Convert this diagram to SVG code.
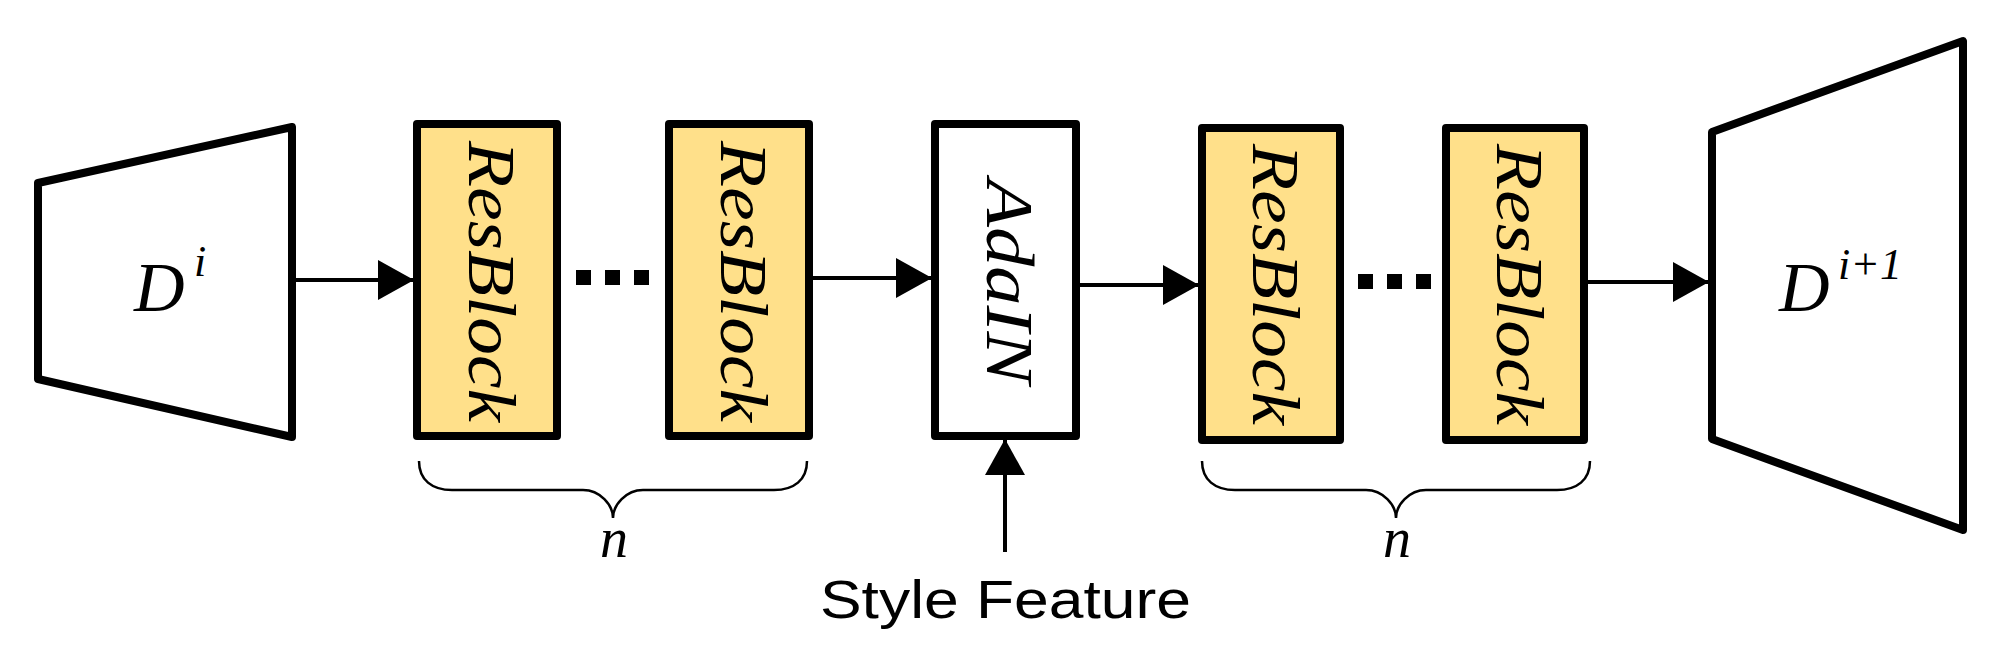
<svg xmlns="http://www.w3.org/2000/svg" width="2008" height="668" viewBox="0 0 2008 668">
<style>
.sh{fill:#fff;stroke:#000;stroke-width:8;stroke-linejoin:round}
.rb{fill:#FFE08A;stroke:#000;stroke-width:8;stroke-linejoin:round}
.ln{stroke:#000;stroke-width:4;fill:none}
.br{stroke:#000;stroke-width:2.5;fill:none}
.m{font-family:"Liberation Serif",serif;font-style:italic;fill:#000}
.lbl{font-family:"Liberation Serif",serif;font-style:italic;font-size:68px;fill:#000}
</style>
<defs>
<marker id="ah" markerUnits="userSpaceOnUse" markerWidth="40" markerHeight="44" refX="36" refY="22" orient="auto">
<path d="M0,2 L36,22 L0,42 Z" fill="#000"/>
</marker>
</defs>
<rect width="2008" height="668" fill="#fff"/>
<g id="Di"><polygon class="sh" points="38,183 292,127 292,437 38,379"/>
<text class="m" x="134" y="311" font-size="70">D</text><text class="m" x="194" y="276" font-size="44">i</text></g>
<g id="rb1"><rect class="rb" x="417" y="124" width="140" height="312"/><text class="lbl" transform="translate(469,141) rotate(90)" textLength="281" lengthAdjust="spacingAndGlyphs">ResBlock</text></g>
<g id="rb2"><rect class="rb" x="669" y="124" width="140" height="312"/><text class="lbl" transform="translate(721,141) rotate(90)" textLength="281" lengthAdjust="spacingAndGlyphs">ResBlock</text></g>
<g id="adain"><rect class="sh" x="935" y="124" width="141" height="312"/><text class="lbl" transform="translate(987,179) rotate(90)" textLength="205" lengthAdjust="spacingAndGlyphs">AdaIN</text></g>
<g id="rb3"><rect class="rb" x="1202" y="128" width="138" height="312"/><text class="lbl" transform="translate(1253,144) rotate(90)" textLength="281" lengthAdjust="spacingAndGlyphs">ResBlock</text></g>
<g id="rb4"><rect class="rb" x="1446" y="128" width="138" height="312"/><text class="lbl" transform="translate(1497,144) rotate(90)" textLength="281" lengthAdjust="spacingAndGlyphs">ResBlock</text></g>
<g id="Di1"><polygon class="sh" points="1712,132 1963,41 1963,530 1712,439"/>
<text class="m" x="1779" y="311" font-size="70">D</text><text class="m" x="1838" y="279" font-size="44">i+1</text></g>
<g id="dots">
<rect x="576" y="270" width="15" height="15"/><rect x="605" y="270" width="15" height="15"/><rect x="634" y="270" width="15" height="15"/>
<rect x="1358" y="274" width="15" height="15"/><rect x="1387" y="274" width="15" height="15"/><rect x="1416" y="274" width="15" height="15"/>
</g>
<g id="connectors">
<line class="ln" x1="296" y1="280" x2="414" y2="280" marker-end="url(#ah)"/>
<line class="ln" x1="813" y1="278" x2="932" y2="278" marker-end="url(#ah)"/>
<line class="ln" x1="1080" y1="285" x2="1199" y2="285" marker-end="url(#ah)"/>
<line class="ln" x1="1588" y1="282" x2="1709" y2="282" marker-end="url(#ah)"/>
<line class="ln" x1="1005" y1="552" x2="1005" y2="439" marker-end="url(#ah)"/>
</g>
<g id="braces">
<path class="br" d="M419,461 C419,480 432,490 452,490 L583,490 C600,490 613,505 613,518 C613,505 626,490 643,490 L774,490 C794,490 807,480 807,461"/>
<text class="m" x="600" y="557" font-size="56">n</text>
<path class="br" d="M1202,461 C1202,480 1215,490 1235,490 L1366,490 C1383,490 1396,505 1396,518 C1396,505 1409,490 1426,490 L1557,490 C1577,490 1590,480 1590,461"/>
<text class="m" x="1383" y="557" font-size="56">n</text>
</g>
<text x="820" y="618" font-family="Liberation Sans, sans-serif" font-size="54" textLength="371" lengthAdjust="spacingAndGlyphs">Style Feature</text>
</svg>
